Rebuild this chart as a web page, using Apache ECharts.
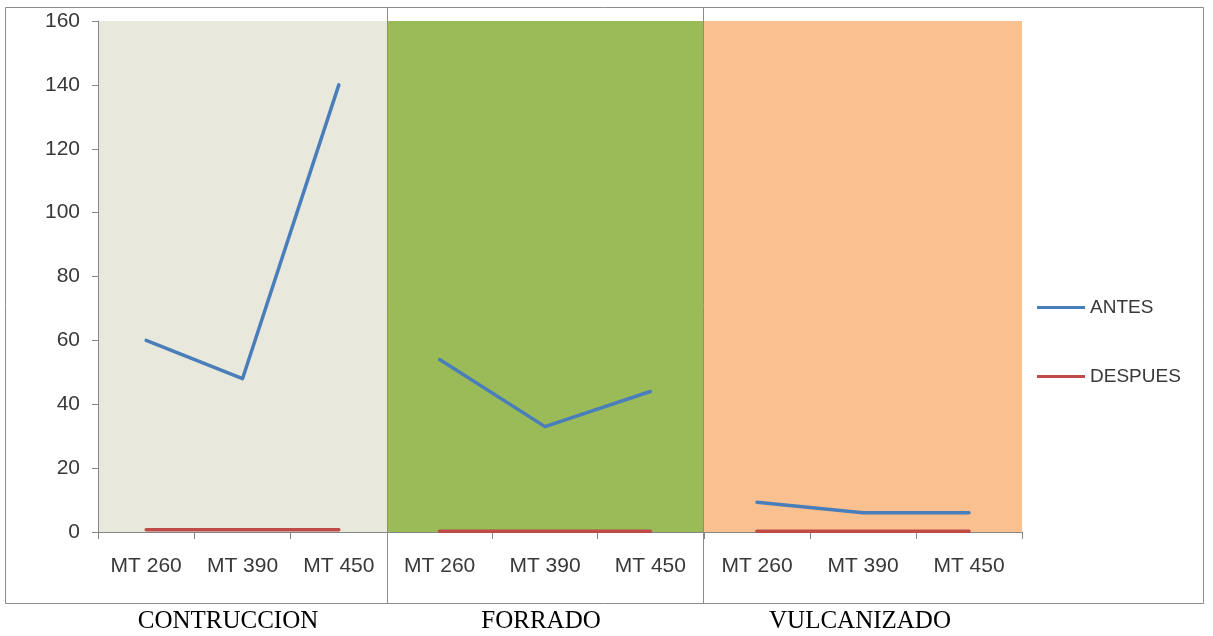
<!DOCTYPE html>
<html>
<head>
<meta charset="utf-8">
<title>ANTES / DESPUES</title>
<script src="https://cdn.jsdelivr.net/npm/echarts@6/dist/echarts.min.js"></script>
<style>
  html, body { margin: 0; padding: 0; background: #ffffff; }
  #chart { width: 1213px; height: 636px; }
</style>
</head>
<body>
<div id="chart"></div>
<script>
// Process stages and machine models
const groupNames = ['CONTRUCCION', 'FORRADO', 'VULCANIZADO'];
const categories = ['MT 260', 'MT 390', 'MT 450'];

// ANTES series, one array per stage
const antesConstruccion = [60, 48, 140];
const antesForrado = [54, 33, 44];
const antesVulcanizado = [9.3, 6, 6];

// DESPUES series, one array per stage
const despuesConstruccion = [0.7, 0.7, 0.7];
const despuesForrado = [0.2, 0.2, 0.2];
const despuesVulcanizado = [0.2, 0.2, 0.2];

// Value axis ticks
const yMin = 0, yMax = 160, yStep = 20;

const antesByGroup = [antesConstruccion, antesForrado, antesVulcanizado];
const despuesByGroup = [despuesConstruccion, despuesForrado, despuesVulcanizado];

// Panel layout and colours
const panels = [
  { left: 98, width: 289, bg: '#E9E8DC', labelX: 228 },
  { left: 387, width: 316, bg: '#9BBB59', labelX: 541 },
  { left: 704, width: 318, bg: '#FBC08F', labelX: 860 }
];
const gridTop = 21, gridHeight = 511;
const axisGrey = '#868686';
const textGrey = '#383838';
const blue = '#4A7EBB', red = '#BE4B48';

const grids = [], xAxes = [], yAxes = [], series = [];
panels.forEach((p, i) => {
  grids.push({
    left: p.left, top: gridTop, width: p.width, height: gridHeight,
    show: true, backgroundColor: p.bg, borderWidth: 0
  });
  xAxes.push({
    type: 'category', gridIndex: i, data: categories, boundaryGap: true,
    axisLine: { show: true, lineStyle: { color: axisGrey, width: 1 } },
    axisTick: { show: true, length: 7, lineStyle: { color: axisGrey } },
    axisLabel: { color: textGrey, fontSize: 21, fontFamily: 'Liberation Sans', margin: 24 },
    splitLine: { show: false }
  });
  yAxes.push({
    type: 'value', gridIndex: i, min: yMin, max: yMax, interval: yStep,
    show: i === 0,
    axisLine: { show: true, lineStyle: { color: axisGrey, width: 1 } },
    axisTick: { show: true, length: 6, lineStyle: { color: axisGrey } },
    axisLabel: { color: textGrey, fontSize: 21, fontFamily: 'Liberation Sans', margin: 18 },
    splitLine: { show: false }
  });
  series.push({
    name: 'DESPUES', type: 'line', xAxisIndex: i, yAxisIndex: i,
    data: despuesByGroup[i], symbol: 'none', color: red, z: 3,
    lineStyle: { color: red, width: 3.5, cap: 'round', join: 'round' }
  });
  series.push({
    name: 'ANTES', type: 'line', xAxisIndex: i, yAxisIndex: i,
    data: antesByGroup[i], symbol: 'none', color: blue, z: 4,
    lineStyle: { color: blue, width: 3.5, cap: 'round', join: 'round' }
  });
});

// Outer frame, stage dividers and stage names
const graphics = [
  { type: 'rect', z: 100, silent: true,
    shape: { x: 5.5, y: 7.5, width: 1198, height: 596 },
    style: { fill: 'none', stroke: '#8c8c8c', lineWidth: 1 } },
  { type: 'line', z: 100, silent: true,
    shape: { x1: 387.5, y1: 7.5, x2: 387.5, y2: 603.5 },
    style: { stroke: '#8c8c8c', lineWidth: 1 } },
  { type: 'line', z: 100, silent: true,
    shape: { x1: 703.5, y1: 7.5, x2: 703.5, y2: 603.5 },
    style: { stroke: '#8c8c8c', lineWidth: 1 } }
];
groupNames.forEach((name, i) => {
  graphics.push({
    type: 'text', z: 100, silent: true, x: panels[i].labelX, y: 621,
    style: { text: name, fill: '#000000', font: '25px "Liberation Serif"',
             textAlign: 'center', textVerticalAlign: 'middle' }
  });
});

const chart = echarts.init(document.getElementById('chart'), null, { renderer: 'canvas' });
chart.setOption({
  animation: false,
  backgroundColor: '#ffffff',
  grid: grids,
  xAxis: xAxes,
  yAxis: yAxes,
  legend: {
    orient: 'vertical', left: 1032, top: 293,
    itemWidth: 48, itemHeight: 3, itemGap: 50, itemTextGap: 5, icon: 'rect',
    textStyle: { color: textGrey, fontSize: 19, fontFamily: 'Liberation Sans' },
    data: ['ANTES', 'DESPUES']
  },
  graphic: graphics,
  series: series
});
</script>
</body>
</html>
